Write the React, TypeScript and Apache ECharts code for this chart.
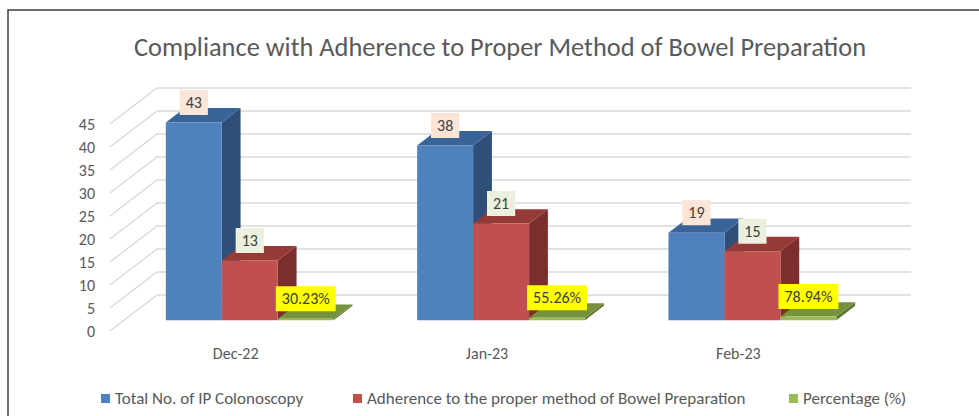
import React, { useEffect, useRef } from "react";
import * as echarts from "echarts";

const categories = ["Dec-22", "Jan-23", "Feb-23"];
const totalColonoscopy = [43, 38, 19];
const adherence = [13, 21, 15];
const percentage = [0.3023, 0.5526, 0.7894];
const percentageLabels = ["30.23%", "55.26%", "78.94%"];
const gridTicks = [0, 5, 10, 15, 20, 25, 30, 35, 40, 45];

const seriesNames = [
  "Total No. of IP Colonoscopy",
  "Adherence to the proper method of Bowel Preparation",
  "Percentage (%)",
];

const FONT = "Carlito, 'Liberation Sans Narrow', 'Liberation Sans', sans-serif";
const DX = 47;
const DY = -36;
const BAR_FRONT = 0.3;
const BAR_DEPTH = 0.4;
const BAR_FRAC = 0.2227;

const faces = [
  { front: "#4F81BD", top: "#3A6497", side: "#2F4F7A", labelBg: "#FCE4D6" },
  { front: "#C0504D", top: "#963A38", side: "#7B2E2C", labelBg: "#EBF1DE" },
  { front: "#9BBB59", top: "#76923C", side: "#5E7530", labelBg: "#FFFF00" },
];

function makeBarSeries(s: number, values: number[], labels: string[]) {
  const f = faces[s];
  return {
    type: "custom",
    name: seriesNames[s],
    z: 3,
    clip: false,
    itemStyle: { color: f.front },
    encode: { x: 0, y: 1 },
    data: values.map((v, i) => [i, v]),
    renderItem: (params: any, api: any) => {
      const idx = api.value(0);
      const val = api.value(1);
      const base = api.coord([idx, 0]);
      const topPt = api.coord([idx, val]);
      const band = api.size([1, 0])[0];
      const bw = band * BAR_FRAC;
      const fx = BAR_FRONT * DX;
      const fy = BAR_FRONT * DY;
      const bdx = BAR_DEPTH * DX;
      const bdy = BAR_DEPTH * DY;
      const left = base[0] - 1.5 * bw + s * bw + fx;
      const y0 = base[1] + fy;
      const yT = topPt[1] + fy;
      const right = left + bw;
      const label = labels[params.dataIndex];
      return {
        type: "group",
        children: [
          {
            type: "polygon",
            shape: { points: [[right, yT], [right + bdx, yT + bdy], [right + bdx, y0 + bdy], [right, y0]] },
            style: { fill: f.side },
          },
          {
            type: "polygon",
            shape: { points: [[left, yT], [right, yT], [right + bdx, yT + bdy], [left + bdx, yT + bdy]] },
            style: { fill: f.top },
          },
          {
            type: "rect",
            shape: { x: left, y: yT, width: bw, height: Math.max(y0 - yT, 0.5) },
            style: { fill: f.front },
          },
          {
            type: "text",
            z2: 100,
            x: left + bw / 2,
            y: yT - 20,
            style: {
              text: label,
              align: "center",
              verticalAlign: "middle",
              fill: "#404040",
              font: `16px ${FONT}`,
              backgroundColor: f.labelBg,
              padding: [5, 6, 4, 6],
            },
          },
        ],
      };
    },
  };
}

export default function App() {
  const ref = useRef<HTMLDivElement>(null);
  useEffect(() => {
    if (!ref.current) return;
    const chart = echarts.init(ref.current, undefined, { renderer: "svg" });
    const option: any = {
      animation: false,
      backgroundColor: "#ffffff",
      title: {
        text: "Compliance with Adherence to Proper Method of Bowel Preparation",
        left: 495,
        top: 29,
        textAlign: "center",
        textStyle: { fontFamily: FONT, fontSize: 26.4, fontWeight: "normal", color: "#595959" },
      },
      graphic: [
        {
          type: "rect",
          shape: { x: 8, y: 10, width: 1000, height: 500 },
          style: { fill: "none", stroke: "#3F3F3F", lineWidth: 1.5 },
          z: 10,
        },
      ],
      legend: [0, 1, 2].map((s) => ({
        data: [seriesNames[s]],
        left: [96, 348, 784][s],
        top: 385,
        icon: "rect",
        itemWidth: 9,
        itemHeight: 9,
        itemGap: 5,
        selectedMode: false,
        textStyle: { fontFamily: FONT, fontSize: 17, color: "#595959", padding: [0, 0, 0, 0] },
      })),
      grid: { left: 110, top: 124, width: 754, height: 207 },
      xAxis: {
        type: "category",
        data: categories,
        axisLine: { show: false },
        axisTick: { show: false },
        axisLabel: { margin: 14, fontFamily: FONT, fontSize: 16, color: "#595959" },
      },
      yAxis: {
        type: "value",
        min: 0,
        max: 45,
        interval: 5,
        axisLine: { show: false },
        axisTick: { show: false },
        splitLine: { show: false },
        axisLabel: { margin: 15, fontFamily: FONT, fontSize: 16, color: "#595959" },
      },
      series: [
        {
          type: "custom",
          name: "grid",
          z: 1,
          clip: false,
          silent: true,
          encode: { x: 0, y: 1 },
          data: gridTicks.map((t) => [0, t]),
          renderItem: (params: any, api: any) => {
            const cs = params.coordSys;
            const y = api.coord([0, api.value(1)])[1];
            const x0 = cs.x;
            return {
              type: "polyline",
              shape: { points: [[x0, y], [x0 + DX, y + DY], [x0 + cs.width + DX, y + DY]] },
              style: { fill: "none", stroke: "#D9D9D9", lineWidth: 1.3 },
            };
          },
        },
        makeBarSeries(0, totalColonoscopy, totalColonoscopy.map(String)),
        makeBarSeries(1, adherence, adherence.map(String)),
        makeBarSeries(2, percentage, percentageLabels),
      ],
    };
    chart.setOption(option);
    return () => chart.dispose();
  }, []);
  return (
    <div
      ref={ref}
      style={{ position: "absolute", left: 0, top: 0, width: 979, height: 416 }}
    />
  );
}
